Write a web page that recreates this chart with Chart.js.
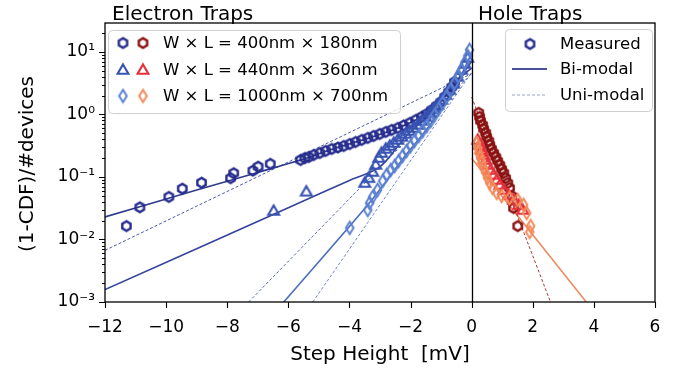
<!DOCTYPE html>
<html>
<head>
<meta charset="utf-8">
<script src="https://cdn.jsdelivr.net/npm/chart.js@4.4.0/dist/chart.umd.min.js"></script>
<style>
  html, body { margin: 0; padding: 0; background: #fff; }
  #wrap { width: 684px; height: 374px; }
</style>
</head>
<body>
<div id="wrap"><canvas id="chart" width="684" height="374"></canvas></div>
<script>
// electron traps (negative step heights)
const e400x = [-11.30, -10.86, -9.91, -9.47, -8.84, -7.89, -7.79, -7.16, -6.99, -6.59,
  -5.60, -5.46, -5.33, -5.17, -4.97, -4.78, -4.58, -4.38, -4.19, -3.99,
  -3.80, -3.60, -3.40, -3.21, -3.01, -2.81, -2.62, -2.42, -2.23, -2.03,
  -1.83, -1.64, -1.47, -1.31, -1.15, -1.01, -0.88, -0.75, -0.65, -0.56];
const e400y = [0.0164, 0.0327, 0.048, 0.065, 0.081, 0.096, 0.115, 0.126, 0.146, 0.162,
  0.187, 0.201, 0.209, 0.225, 0.242, 0.261, 0.281, 0.296, 0.313, 0.337,
  0.363, 0.391, 0.421, 0.453, 0.488, 0.525, 0.565, 0.608, 0.667, 0.731,
  0.817, 0.912, 1.02, 1.18, 1.37, 1.58, 1.91, 2.29, 2.75, 3.31];

const e440x = [-6.48, -5.41, -3.50, -3.37, -3.24, -3.14, -3.04, -2.95, -2.81, -2.68,
  -2.55, -2.42, -2.29, -2.16, -2.03, -1.90, -1.77, -1.64, -1.51, -1.37,
  -1.24, -1.11, -0.98, -0.85, -0.72, -0.59, -0.46, -0.33, -0.23, -0.13];
const e440y = [0.0286, 0.058, 0.080, 0.096, 0.120, 0.156, 0.201, 0.242, 0.281, 0.313,
  0.350, 0.391, 0.437, 0.488, 0.545, 0.608, 0.679, 0.787, 0.912, 1.06,
  1.22, 1.42, 1.71, 2.05, 2.47, 3.08, 3.98, 5.15, 6.43, 8.02];

const e1000x = [-3.99, -3.40, -3.34, -3.24, -3.08, -2.91, -2.78, -2.65, -2.52, -2.39,
  -2.26, -2.13, -2.00, -1.87, -1.73, -1.60, -1.47, -1.34, -1.21, -1.08,
  -0.95, -0.82, -0.69, -0.56, -0.43, -0.33, -0.23, -0.13, -0.07];
const e1000y = [0.0153, 0.0296, 0.0384, 0.0479, 0.0619, 0.0863, 0.108, 0.129, 0.150, 0.180,
  0.217, 0.261, 0.313, 0.377, 0.453, 0.545, 0.655, 0.787, 0.982, 1.22,
  1.53, 1.91, 2.47, 3.19, 4.13, 5.15, 6.67, 8.63, 10.8];

// hole traps (positive step heights)
const h400x = [0.23, 0.26, 0.29, 0.36, 0.39, 0.46, 0.49, 0.56, 0.59, 0.65, 0.72,
  0.79, 0.85, 0.92, 0.98, 1.05, 1.11, 1.18, 1.24, 1.31, 1.37, 1.51];
const h400y = [1.06, 0.912, 0.787, 0.679, 0.586, 0.506, 0.437, 0.377, 0.325, 0.281, 0.242,
  0.209, 0.180, 0.156, 0.134, 0.116, 0.096, 0.080, 0.0667, 0.0497, 0.0319, 0.0164];

const h440x = [0.20, 0.26, 0.33, 0.39, 0.46, 0.52, 0.62, 0.72, 0.82, 0.92, 1.05, 1.21, 1.37, 1.54, 1.67];
const h440y = [0.391, 0.325, 0.270, 0.225, 0.187, 0.156, 0.129, 0.108, 0.0895, 0.0745, 0.0619, 0.0515, 0.0429, 0.0356, 0.0296];

const h1000x = [0.16, 0.20, 0.23, 0.29, 0.33, 0.39, 0.46, 0.52, 0.59, 0.69, 0.82, 0.98, 1.24, 1.51, 1.70, 1.80, 1.93, 1.90];
const h1000y = [0.35, 0.291, 0.242, 0.201, 0.168, 0.139, 0.116, 0.096, 0.080, 0.0667, 0.0555, 0.0497, 0.0461, 0.0429, 0.0356, 0.0265, 0.0164, 0.0132];

// fitted curves
const fitE400BiX = [-12, -9, -7, -5.5, -4.5, -3.5, -2.5, -1.8, -1.2, -0.7, -0.3, 0];
const fitE400BiY = [0.023, 0.0617, 0.118, 0.193, 0.285, 0.40, 0.585, 0.83, 1.3, 2.4, 4.2, 5.5];
const fitE400UniX = [-12, 0];
const fitE400UniY = [0.0067, 4.5];
const fitE440BiX = [-12, -6, -4, -3, -2.2, -1.5, -0.8, -0.3, 0];
const fitE440BiY = [0.00158, 0.0322, 0.088, 0.146, 0.42, 0.9, 2.2, 4.5, 7];
const fitE440UniX = [-7.3, 0];
const fitE440UniY = [0.001, 4.5];
const fitE1000BiX = [-6.15, -3.45, -2.8, -2.2, -1.6, -1.0, -0.5, 0];
const fitE1000BiY = [0.001, 0.0335, 0.085, 0.21, 0.48, 1.2, 3.0, 9.5];
const fitE1000UniX = [-5.2, 0];
const fitE1000UniY = [0.001, 4.7];
const fitH400UniX = [0, 2.58];
const fitH400UniY = [1.9, 0.001];
const fitH1000BiX = [0, 3.75];
const fitH1000BiY = [0.2, 0.001];

const xTicks = [-12, -10, -8, -6, -4, -2, 0, 2, 4, 6];
const yTicks = [1e-3, 1e-2, 1e-1, 1e0, 1e1];
const legendSizes = ['W \u00d7 L = 400nm \u00d7 180nm', 'W \u00d7 L = 440nm \u00d7 360nm', 'W \u00d7 L = 1000nm \u00d7 700nm'];
const legendFits = ['Measured', 'Bi-modal', 'Uni-modal'];

const FONT = 'DejaVu Sans';
Chart.defaults.font.family = FONT;
Chart.defaults.color = '#000';

const navy = '#262c8c', blue = '#3753b2', light = '#5a80d0';
const dred = '#8a1010', red = '#e3303a', orange = '#f3895a';

function zip(xs, ys) { return xs.map((x, i) => ({ x: x, y: ys[i] })); }

function markerCanvas(draw, size) {
  const c = document.createElement('canvas');
  c.width = size; c.height = size;
  draw(c.getContext('2d'), size / 2);
  return c;
}
function hexMarker(color) {
  return markerCanvas((g, m) => {
    g.strokeStyle = color; g.lineWidth = 2.4;
    g.beginPath();
    for (let k = 0; k < 6; k++) {
      const a = Math.PI / 2 + k * Math.PI / 3;
      const px = m + 4.8 * Math.cos(a), py = m - 4.8 * Math.sin(a);
      if (k) g.lineTo(px, py); else g.moveTo(px, py);
    }
    g.closePath(); g.stroke();
  }, 15);
}
function triMarker(color) {
  return markerCanvas((g, m) => {
    g.strokeStyle = color; g.lineWidth = 2.1; g.lineJoin = 'miter';
    g.beginPath();
    g.moveTo(m, m - 5.6); g.lineTo(m + 5.4, m + 3.8); g.lineTo(m - 5.4, m + 3.8);
    g.closePath(); g.stroke();
  }, 16);
}
function diaMarker(color) {
  return markerCanvas((g, m) => {
    g.strokeStyle = color; g.lineWidth = 2.0;
    g.beginPath();
    g.moveTo(m, m - 6.2); g.lineTo(m + 3.8, m); g.lineTo(m, m + 6.2); g.lineTo(m - 3.8, m);
    g.closePath(); g.stroke();
  }, 17);
}

const mk = {
  eHex: hexMarker(navy), eTri: triMarker(blue), eDia: diaMarker(light),
  hHex: hexMarker(dred), hTri: triMarker(red), hDia: diaMarker(orange)
};

function pts(xs, ys, style, order) {
  return { data: zip(xs, ys), pointStyle: style, pointRadius: 5, showLine: false, order: order };
}
function fit(xs, ys, color, dashed, order) {
  return {
    data: zip(xs, ys), showLine: true, pointRadius: 0, borderColor: color,
    borderWidth: dashed ? 0.9 : 1.6, borderDash: dashed ? [3, 2] : [],
    tension: dashed ? 0 : 0.35, order: order
  };
}

const decor = {
  id: 'decor',
  afterDraw(chart) {
    const ctx = chart.ctx, a = chart.chartArea;
    const xs = chart.scales.x, ys = chart.scales.y;
    ctx.save();
    // frame and zero line
    ctx.strokeStyle = '#000'; ctx.lineWidth = 1.3;
    ctx.strokeRect(a.left, a.top, a.right - a.left, a.bottom - a.top);
    const x0 = Math.round(xs.getPixelForValue(0)) + 0.5;
    ctx.beginPath(); ctx.moveTo(x0, a.top); ctx.lineTo(x0, a.bottom); ctx.stroke();
    // tick marks
    ctx.lineWidth = 1.1;
    ctx.beginPath();
    xTicks.forEach(v => {
      const p = Math.round(xs.getPixelForValue(v)) + 0.5;
      ctx.moveTo(p, a.bottom); ctx.lineTo(p, a.bottom + 6);
    });
    for (let n = -3; n <= 1; n++) {
      for (let k = 1; k <= 9; k++) {
        const v = k * Math.pow(10, n);
        if (v > ys.max) break;
        const p = Math.round(ys.getPixelForValue(v)) + 0.5;
        ctx.moveTo(a.left, p); ctx.lineTo(a.left - (k === 1 ? 6 : 3), p);
      }
    }
    ctx.stroke();
    // titles and axis labels
    ctx.fillStyle = '#000';
    ctx.font = '20px "' + FONT + '"';
    ctx.textBaseline = 'alphabetic'; ctx.textAlign = 'left';
    ctx.fillText('Electron Traps', 112, 20);
    ctx.fillText('Hole Traps', 478, 20);
    ctx.textAlign = 'center'; ctx.textBaseline = 'middle';
    ctx.fillText('Step Height  [mV]', (a.left + a.right) / 2, 355);
    ctx.save();
    ctx.translate(28, 164); ctx.rotate(-Math.PI / 2);
    ctx.fillText('(1-CDF)/#devices', 0, 0);
    ctx.restore();
    // legend boxes
    function box(x, y, w, h) {
      ctx.beginPath(); ctx.roundRect(x, y, w, h, 4);
      ctx.fillStyle = 'rgba(255,255,255,0.8)'; ctx.fill();
      ctx.strokeStyle = '#cfcfcf'; ctx.lineWidth = 1; ctx.stroke();
    }
    function img(c, x, y) { ctx.drawImage(c, x - c.width / 2, y - c.height / 2); }
    box(108.5, 30.5, 292, 83);
    const rows1 = [43, 70, 96];
    const left1 = [mk.eHex, mk.eTri, mk.eDia], right1 = [mk.hHex, mk.hTri, mk.hDia];
    ctx.font = '16.5px "' + FONT + '"';
    rows1.forEach((ry, i) => {
      img(left1[i], 123, ry); img(right1[i], 143, ry);
      ctx.fillStyle = '#000'; ctx.textAlign = 'left'; ctx.textBaseline = 'middle';
      ctx.fillText(legendSizes[i], 163, ry + 1);
    });
    box(505.5, 29.5, 147, 82);
    const rows2 = [44, 69, 95];
    img(mk.eHex, 530, rows2[0]);
    ctx.strokeStyle = '#4a5198'; ctx.lineWidth = 1.8;
    ctx.beginPath(); ctx.moveTo(512, rows2[1]); ctx.lineTo(547, rows2[1]); ctx.stroke();
    ctx.strokeStyle = '#8f96c4'; ctx.lineWidth = 0.9; ctx.setLineDash([3, 2]);
    ctx.beginPath(); ctx.moveTo(512, rows2[2]); ctx.lineTo(547, rows2[2]); ctx.stroke();
    ctx.setLineDash([]);
    ctx.fillStyle = '#000';
    rows2.forEach((ry, i) => ctx.fillText(legendFits[i], 560, ry + 1));
    ctx.restore();
  }
};

const sup = { '-': '\u207b', '0': '\u2070', '1': '\u00b9', '2': '\u00b2', '3': '\u00b3' };

new Chart(document.getElementById('chart'), {
  type: 'scatter',
  data: {
    datasets: [
      fit(fitE400BiX, fitE400BiY, '#2f3a8f', false, 10),
      fit(fitE400UniX, fitE400UniY, '#3a46a0', true, 10),
      fit(fitE440BiX, fitE440BiY, '#34449c', false, 10),
      fit(fitE440UniX, fitE440UniY, '#4a5fb0', true, 10),
      fit(fitE1000BiX, fitE1000BiY, '#4a6cc0', false, 10),
      fit(fitE1000UniX, fitE1000UniY, '#5a78c8', true, 10),
      fit(fitH400UniX, fitH400UniY, '#a02020', true, 10),
      fit(fitH1000BiX, fitH1000BiY, '#f08a60', false, 10),
      pts(e400x, e400y, mk.eHex, 3),
      pts(e440x, e440y, mk.eTri, 2),
      pts(e1000x, e1000y, mk.eDia, 1),
      pts(h400x, h400y, mk.hHex, 3),
      pts(h440x, h440y, mk.hTri, 2),
      pts(h1000x, h1000y, mk.hDia, 1)
    ]
  },
  options: {
    responsive: false,
    animation: false,
    events: [],
    devicePixelRatio: 1,
    layout: { padding: { top: 23, right: 29, left: 0, bottom: 0 } },
    plugins: { legend: { display: false }, tooltip: { enabled: false } },
    scales: {
      x: {
        type: 'linear', min: -12, max: 6,
        afterBuildTicks: s => { s.ticks = xTicks.map(v => ({ value: v })); },
        afterFit: s => { s.height = 72; },
        grid: { display: false, drawTicks: false },
        border: { display: false },
        ticks: { font: { size: 17 }, color: '#000', padding: 15,
          callback: v => (v < 0 ? '\u2212' + Math.abs(v) : String(v)) }
      },
      y: {
        type: 'logarithmic', min: 1e-3, max: 29,
        afterBuildTicks: s => { s.ticks = yTicks.map(v => ({ value: v })); },
        afterFit: s => { s.width = 105; },
        grid: { display: false, drawTicks: false },
        border: { display: false },
        ticks: { font: { size: 17 }, color: '#000', padding: 10,
          callback: v => '10' + String(Math.round(Math.log10(v))).split('').map(ch => sup[ch]).join('') }
      }
    }
  },
  plugins: [decor]
});
</script>
</body>
</html>
